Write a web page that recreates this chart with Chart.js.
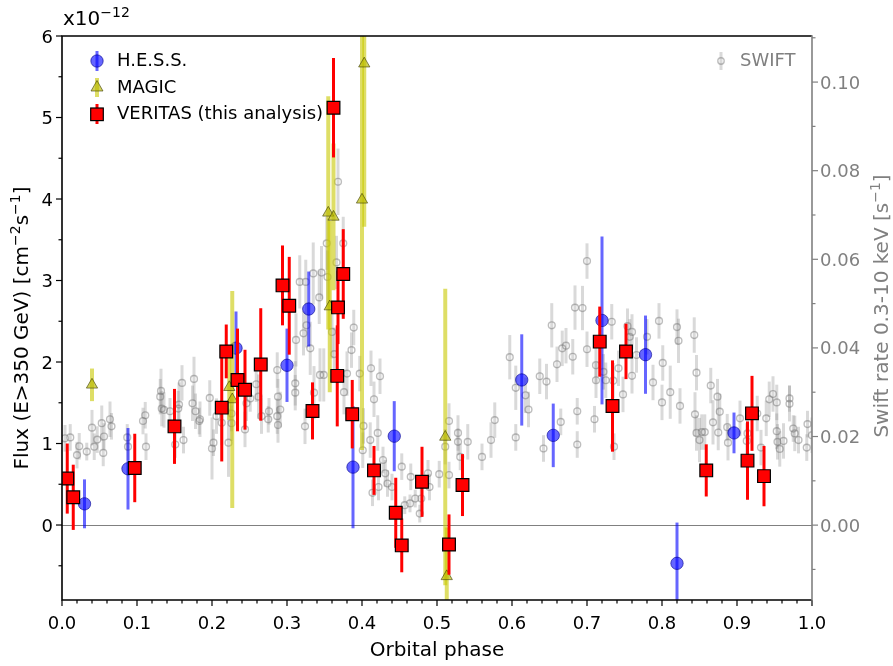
<!DOCTYPE html>
<html><head><meta charset="utf-8">
<script src="https://cdn.jsdelivr.net/npm/chart.js@4.4.1/dist/chart.umd.min.js"></script>
<style>html,body{margin:0;padding:0;background:#fff;}</style>
</head><body>
<canvas id="c" width="893" height="666" style="width:893px;height:666px;display:block"></canvas>
<script>
// ---- data (flux in units of 1e-12 cm^-2 s^-1) ----
const hessPhase = [0.030,0.088,0.232,0.300,0.329,0.388,0.443,0.613,0.655,0.720,0.778,0.820,0.896];
const hessFlux  = [0.26,0.69,2.17,1.96,2.65,0.71,1.09,1.78,1.10,2.51,2.09,-0.47,1.13];
const hessErr   = [0.30,0.50,0.45,0.45,0.46,0.75,0.43,0.56,0.39,1.03,0.48,0.50,0.25];

const magicPhase = [0.040,0.223,0.227,0.355,0.357,0.362,0.400,0.403,0.511,0.513];
const magicFlux  = [1.72,1.69,1.54,3.83,2.68,3.78,3.99,5.66,1.08,-0.63];
const magicErr   = [0.20,0.40,1.33,1.43,1.05,0.90,3.07,2.00,1.82,0.60];

const veritasPhase = [0.007,0.015,0.097,0.150,0.213,0.219,0.234,0.244,0.265,0.294,0.303,0.334,0.362,0.367,0.368,0.375,0.387,0.416,0.445,0.453,0.480,0.516,0.534,0.717,0.734,0.752,0.859,0.914,0.920,0.936];
const veritasFlux  = [0.57,0.34,0.70,1.21,1.44,2.13,1.78,1.66,1.97,2.94,2.69,1.40,5.12,1.83,2.67,3.08,1.36,0.67,0.15,-0.25,0.53,-0.24,0.49,2.25,1.46,2.13,0.67,0.79,1.37,0.60];
const veritasErr   = [0.43,0.40,0.42,0.46,0.66,0.33,0.63,0.49,0.69,0.49,0.60,0.35,0.61,0.62,0.45,0.55,0.42,0.30,0.43,0.33,0.43,0.37,0.38,0.43,0.56,0.34,0.32,0.48,0.46,0.37];

const swiftPhase = [0.004,0.011,0.020,0.023,0.033,0.040,0.043,0.047,0.053,0.055,0.056,0.064,0.066,0.087,0.088,0.108,0.111,0.112,0.131,0.132,0.133,0.136,0.144,0.151,0.155,0.156,0.160,0.162,0.174,0.176,0.178,0.183,0.184,0.197,0.200,0.202,0.206,0.213,0.222,0.226,0.226,0.244,0.246,0.251,0.259,0.262,0.266,0.275,0.276,0.287,0.288,0.288,0.287,0.291,0.311,0.311,0.312,0.317,0.322,0.324,0.326,0.325,0.331,0.335,0.336,0.343,0.344,0.346,0.349,0.353,0.354,0.360,0.363,0.366,0.368,0.375,0.376,0.380,0.386,0.389,0.397,0.401,0.402,0.411,0.412,0.414,0.416,0.421,0.422,0.424,0.428,0.431,0.434,0.440,0.453,0.457,0.464,0.465,0.471,0.477,0.479,0.488,0.490,0.503,0.511,0.516,0.516,0.528,0.528,0.531,0.541,0.560,0.572,0.577,0.597,0.605,0.605,0.618,0.622,0.637,0.642,0.646,0.653,0.660,0.665,0.667,0.672,0.681,0.684,0.687,0.687,0.694,0.700,0.700,0.710,0.712,0.712,0.722,0.725,0.733,0.735,0.736,0.742,0.748,0.754,0.757,0.760,0.760,0.766,0.780,0.788,0.796,0.800,0.801,0.811,0.820,0.822,0.824,0.843,0.844,0.846,0.846,0.850,0.853,0.857,0.865,0.868,0.874,0.875,0.877,0.887,0.888,0.904,0.913,0.914,0.927,0.932,0.939,0.943,0.948,0.953,0.953,0.954,0.957,0.962,0.970,0.970,0.975,0.977,0.982,0.993,0.994,1.000];
const swiftRate  = [0.0196,0.0198,0.0158,0.0178,0.0166,0.0220,0.0177,0.0193,0.0230,0.0163,0.0200,0.0239,0.0223,0.0198,0.0177,0.0235,0.0248,0.0177,0.0290,0.0303,0.0263,0.0260,0.0257,0.0182,0.0263,0.0272,0.0321,0.0192,0.0275,0.0330,0.0257,0.0235,0.0239,0.0287,0.0173,0.0186,0.0246,0.0231,0.0186,0.0230,0.0252,0.0216,0.0275,0.0286,0.0318,0.0290,0.0246,0.0239,0.0257,0.0246,0.0226,0.0290,0.0350,0.0261,0.0320,0.0299,0.0418,0.0549,0.0433,0.0223,0.0451,0.0549,0.0399,0.0568,0.0299,0.0514,0.0339,0.0570,0.0339,0.0636,0.0560,0.0436,0.0386,0.0593,0.0775,0.0636,0.0300,0.0342,0.0395,0.0446,0.0342,0.0169,0.0224,0.0192,0.0354,0.0073,0.0284,0.0208,0.0086,0.0336,0.0147,0.0117,0.0094,0.0086,0.0132,0.0045,0.0049,0.0109,0.0060,0.0026,0.0060,0.0117,0.0086,0.0115,0.0177,0.0113,0.0235,0.0208,0.0188,0.0154,0.0188,0.0154,0.0192,0.0237,0.0379,0.0310,0.0198,0.0293,0.0261,0.0336,0.0173,0.0324,0.0451,0.0363,0.0233,0.0399,0.0405,0.0380,0.0491,0.0257,0.0182,0.0490,0.0596,0.0397,0.0239,0.0361,0.0327,0.0346,0.0327,0.0459,0.0326,0.0177,0.0354,0.0295,0.0449,0.0425,0.0436,0.0337,0.0384,0.0425,0.0322,0.0461,0.0277,0.0366,0.0300,0.0447,0.0416,0.0269,0.0429,0.0250,0.0344,0.0208,0.0192,0.0210,0.0210,0.0315,0.0232,0.0290,0.0209,0.0256,0.0221,0.0186,0.0241,0.0190,0.0207,0.0252,0.0175,0.0241,0.0284,0.0296,0.0277,0.0212,0.0188,0.0172,0.0190,0.0286,0.0274,0.0218,0.0207,0.0192,0.0175,0.0228,0.0203];
const swiftErr   = [0.003,0.003,0.003,0.003,0.002,0.004,0.003,0.003,0.004,0.003,0.003,0.004,0.003,0.003,0.003,0.003,0.003,0.003,0.004,0.005,0.004,0.004,0.003,0.003,0.004,0.005,0.004,0.003,0.004,0.005,0.004,0.003,0.004,0.004,0.007,0.003,0.004,0.005,0.0077,0.004,0.004,0.004,0.004,0.003,0.004,0.005,0.004,0.003,0.003,0.004,0.004,0.004,0.004,0.004,0.005,0.004,0.006,0.006,0.005,0.004,0.005,0.005,0.006,0.007,0.006,0.006,0.006,0.006,0.006,0.006,0.006,0.006,0.006,0.006,0.0075,0.006,0.005,0.005,0.004,0.004,0.004,0.004,0.004,0.004,0.004,0.003,0.004,0.004,0.003,0.004,0.003,0.003,0.003,0.003,0.003,0.002,0.002,0.003,0.002,0.002,0.003,0.003,0.003,0.003,0.004,0.003,0.004,0.004,0.003,0.003,0.004,0.003,0.004,0.004,0.005,0.005,0.003,0.004,0.004,0.004,0.003,0.004,0.005,0.004,0.003,0.004,0.004,0.004,0.005,0.003,0.003,0.005,0.004,0.004,0.003,0.004,0.004,0.004,0.004,0.004,0.004,0.003,0.004,0.004,0.004,0.004,0.004,0.004,0.004,0.004,0.004,0.004,0.004,0.004,0.006,0.004,0.005,0.004,0.004,0.005,0.004,0.004,0.005,0.004,0.004,0.004,0.005,0.004,0.004,0.004,0.003,0.004,0.004,0.004,0.003,0.004,0.004,0.004,0.004,0.004,0.004,0.004,0.004,0.004,0.004,0.003,0.004,0.003,0.004,0.003,0.003,0.003,0.004,0.003];

const xMajor = [0,0.1,0.2,0.3,0.4,0.5,0.6,0.7,0.8,0.9,1.0];
const yMajor = [0,1,2,3,4,5,6];
const y2Major = [0,0.02,0.04,0.06,0.08,0.10];

const pts = (xs, ys) => xs.map((x,i)=>({x:x, y:ys[i]}));
const FONT = 'DejaVu Sans';
const TICK = 18, LABEL = 20, LEG = 18;

// ---- error bars, drawn just before each dataset's markers ----
const errPlugin = {
  id:'errbars',
  beforeDatasetDraw(chart, args){
    const ds = chart.data.datasets[args.index];
    if(!ds.errs) return;
    const xs = chart.scales.x, ys = chart.scales[ds.yAxisID];
    const ctx = chart.ctx, a = chart.chartArea;
    ctx.save();
    ctx.beginPath(); ctx.rect(a.left, a.top, a.right-a.left, a.bottom-a.top); ctx.clip();
    ctx.strokeStyle = ds.errColor; ctx.lineWidth = ds.errWidth; ctx.lineCap='butt';
    ds.data.forEach((p,i)=>{
      const x = xs.getPixelForValue(p.x), e = ds.errs[i];
      ctx.beginPath();
      ctx.moveTo(x, ys.getPixelForValue(p.y - e));
      ctx.lineTo(x, ys.getPixelForValue(p.y + e));
      ctx.stroke();
    });
    ctx.restore();
  }
};

function richWidth(ctx, parts, size, supSize){
  let w=0;
  parts.forEach(p=>{ ctx.font = (p.sup?supSize:size)+'px "'+FONT+'"'; w += ctx.measureText(p.t).width; });
  return w;
}
function drawRich(ctx, parts, x, y, size, supSize, color, align){
  const w = richWidth(ctx, parts, size, supSize);
  let cx = align==='center' ? x - w/2 : x;
  ctx.fillStyle = color; ctx.textBaseline='alphabetic'; ctx.textAlign='left';
  parts.forEach(p=>{
    ctx.font = (p.sup?supSize:size)+'px "'+FONT+'"';
    ctx.fillText(p.t, cx, p.sup ? y - size*0.42 : y);
    cx += ctx.measureText(p.t).width;
  });
}

const decoPlugin = {
  id:'deco',
  beforeDatasetsDraw(chart){
    const ctx = chart.ctx, a = chart.chartArea, y = chart.scales.y;
    ctx.save();
    ctx.strokeStyle = '#808080'; ctx.lineWidth = 1.2;
    const py = Math.round(y.getPixelForValue(0))+0.5;
    ctx.beginPath(); ctx.moveTo(a.left, py); ctx.lineTo(a.right, py); ctx.stroke();
    ctx.restore();
  },
  afterDraw(chart){
    const ctx = chart.ctx, a = chart.chartArea;
    const xs = chart.scales.x, ys = chart.scales.y, y2 = chart.scales.y2;
    ctx.save();
    // tick marks
    ctx.lineWidth = 1.2;
    ctx.strokeStyle = '#000';
    for(let i=0;i<=50;i++){
      const v = i/50, px = xs.getPixelForValue(v), L = (i%5===0)?6:3.5;
      ctx.beginPath(); ctx.moveTo(px, a.bottom); ctx.lineTo(px, a.bottom+L); ctx.stroke();
    }
    for(let i=-1;i<=12;i++){
      const v = i*0.5, py = ys.getPixelForValue(v), L = (i%2===0)?6:3.5;
      if(py < a.top-0.5 || py > a.bottom+0.5) continue;
      ctx.beginPath(); ctx.moveTo(a.left, py); ctx.lineTo(a.left-L, py); ctx.stroke();
    }
    ctx.strokeStyle = '#808080';
    for(let i=-1;i<=11;i++){
      const v = i*0.01, py = y2.getPixelForValue(v), L = (i%2===0)?6:3.5;
      if(py < a.top-0.5 || py > a.bottom+0.5) continue;
      ctx.beginPath(); ctx.moveTo(a.right, py); ctx.lineTo(a.right+L, py); ctx.stroke();
    }
    // spines
    ctx.lineWidth = 1.6;
    ctx.strokeStyle = '#000';
    ctx.beginPath();
    ctx.moveTo(a.right, a.top); ctx.lineTo(a.left, a.top); ctx.lineTo(a.left, a.bottom); ctx.lineTo(a.right, a.bottom);
    ctx.stroke();
    ctx.strokeStyle = '#808080';
    ctx.beginPath(); ctx.moveTo(a.right, a.top-0.8); ctx.lineTo(a.right, a.bottom+0.8); ctx.stroke();

    // tick labels (placed from the scales' own pixel mapping)
    ctx.font = TICK+'px "'+FONT+'"'; ctx.textBaseline = 'alphabetic';
    ctx.fillStyle = '#000'; ctx.textAlign = 'center';
    xs.ticks.forEach(t=>{ ctx.fillText(Number(t.value).toFixed(1), xs.getPixelForValue(t.value), a.bottom + 29); });
    ctx.textAlign = 'right';
    ys.ticks.forEach(t=>{ ctx.fillText(String(t.value), a.left - 9, ys.getPixelForValue(t.value) + 6.5); });
    ctx.fillStyle = '#808080'; ctx.textAlign = 'left';
    y2.ticks.forEach(t=>{ ctx.fillText(Number(t.value).toFixed(2), a.right + 8, y2.getPixelForValue(t.value) + 6.5); });

    // axis titles
    drawRich(ctx, [{t:'Orbital phase'}], (a.left+a.right)/2, 656, LABEL, 14, '#000', 'center');
    ctx.save();
    ctx.translate(28, (a.top+a.bottom)/2 + 10); ctx.rotate(-Math.PI/2);
    drawRich(ctx, [{t:'Flux (E>350 GeV) [cm'},{t:'\u22122',sup:true},{t:'s'},{t:'\u22121',sup:true},{t:']'}], 0, 0, LABEL, 14, '#000', 'center');
    ctx.restore();
    ctx.save();
    ctx.translate(888, (a.top+a.bottom)/2 - 12); ctx.rotate(-Math.PI/2);
    drawRich(ctx, [{t:'Swift rate 0.3-10 keV [s'},{t:'\u22121',sup:true},{t:']'}], 0, 0, LABEL, 14, '#808080', 'center');
    ctx.restore();
    // offset text
    drawRich(ctx, [{t:'x10'},{t:'\u221212',sup:true}], 63, 25, LABEL, 14, '#000', 'left');

    // legend (left)
    const lx = 97, tx = 117;
    ctx.font = LEG+'px "'+FONT+'"'; ctx.textBaseline = 'middle'; ctx.textAlign='left';
    // HESS
    ctx.lineWidth = 3; ctx.strokeStyle = 'rgba(0,0,255,0.6)';
    ctx.beginPath(); ctx.moveTo(lx, 51); ctx.lineTo(lx, 71); ctx.stroke();
    ctx.beginPath(); ctx.arc(lx, 61, 6.2, 0, Math.PI*2);
    ctx.fillStyle = 'rgba(0,0,255,0.6)'; ctx.fill();
    ctx.lineWidth = 1; ctx.strokeStyle = 'rgba(0,0,140,0.6)'; ctx.stroke();
    ctx.fillStyle = '#000'; ctx.fillText('H.E.S.S.', tx, 61);
    // MAGIC
    ctx.lineWidth = 4; ctx.strokeStyle = 'rgba(200,200,0,0.6)';
    ctx.beginPath(); ctx.moveTo(lx, 78); ctx.lineTo(lx, 97); ctx.stroke();
    ctx.beginPath(); ctx.moveTo(lx, 80.5); ctx.lineTo(lx+6, 91); ctx.lineTo(lx-6, 91); ctx.closePath();
    ctx.fillStyle = 'rgba(185,185,0,0.65)'; ctx.fill();
    ctx.lineWidth = 1; ctx.strokeStyle = 'rgba(60,60,0,0.6)'; ctx.stroke();
    ctx.fillStyle = '#000'; ctx.fillText('MAGIC', tx, 88);
    // VERITAS
    ctx.lineWidth = 3; ctx.strokeStyle = '#ff0000';
    ctx.beginPath(); ctx.moveTo(lx, 104); ctx.lineTo(lx, 124); ctx.stroke();
    ctx.fillStyle = '#ff0000'; ctx.fillRect(lx-6.3, 108, 12.6, 12.6);
    ctx.lineWidth = 1.2; ctx.strokeStyle = '#000'; ctx.strokeRect(lx-6.3, 108, 12.6, 12.6);
    ctx.fillStyle = '#000'; ctx.fillText('VERITAS (this analysis)', tx, 114);
    // SWIFT legend (right)
    ctx.lineWidth = 3; ctx.strokeStyle = 'rgba(128,128,128,0.3)';
    ctx.beginPath(); ctx.moveTo(721, 52); ctx.lineTo(721, 70); ctx.stroke();
    ctx.beginPath(); ctx.arc(721, 61, 3.2, 0, Math.PI*2);
    ctx.lineWidth = 1.4; ctx.strokeStyle = 'rgba(128,128,128,0.5)'; ctx.stroke();
    ctx.fillStyle = '#808080'; ctx.fillText('SWIFT', 740, 61);
    ctx.restore();
  }
};

new Chart(document.getElementById('c'), {
  type: 'scatter',
  data: {
    datasets: [
      { label:'VERITAS (this analysis)', data: pts(veritasPhase, veritasFlux), yAxisID:'y',
        errs: veritasErr, errColor:'#ff0000', errWidth:3,
        pointStyle:'rect', pointRadius:9, backgroundColor:'#ff0000', borderColor:'#000', borderWidth:1.2 },
      { label:'MAGIC', data: pts(magicPhase, magicFlux), yAxisID:'y',
        errs: magicErr, errColor:'rgba(200,200,0,0.6)', errWidth:4,
        pointStyle:'triangle', pointRadius:6.5, backgroundColor:'rgba(185,185,0,0.65)', borderColor:'rgba(60,60,0,0.6)', borderWidth:1 },
      { label:'H.E.S.S.', data: pts(hessPhase, hessFlux), yAxisID:'y',
        errs: hessErr, errColor:'rgba(0,0,255,0.6)', errWidth:3,
        pointStyle:'circle', pointRadius:6.2, backgroundColor:'rgba(0,0,255,0.6)', borderColor:'rgba(0,0,140,0.6)', borderWidth:1 },
      { label:'SWIFT', data: pts(swiftPhase, swiftRate), yAxisID:'y2',
        errs: swiftErr, errColor:'rgba(128,128,128,0.3)', errWidth:3,
        pointStyle:'circle', pointRadius:3.4, backgroundColor:'rgba(255,255,255,0)', borderColor:'rgba(110,110,110,0.45)', borderWidth:1.4 }
    ]
  },
  options: {
    responsive:false, animation:false, devicePixelRatio:1,
    layout:{padding:{top:36, left:0, right:0, bottom:0}},
    plugins:{legend:{display:false}, tooltip:{enabled:false}},
    elements:{point:{hoverRadius:0}},
    scales:{
      x:{type:'linear', position:'bottom', min:0, max:1,
         grid:{display:false, drawTicks:false}, border:{display:false},
         afterBuildTicks: s=>{ s.ticks = xMajor.map(v=>({value:v})); },
         ticks:{display:false},
         afterFit: s=>{ s.height = 66; } },
      y:{type:'linear', position:'left', min:-0.92, max:6,
         grid:{display:false, drawTicks:false}, border:{display:false},
         afterBuildTicks: s=>{ s.ticks = yMajor.map(v=>({value:v})); },
         ticks:{display:false},
         afterFit: s=>{ s.width = 62; } },
      y2:{type:'linear', position:'right', min:-0.0169, max:0.1104,
         grid:{display:false, drawTicks:false}, border:{display:false},
         afterBuildTicks: s=>{ s.ticks = y2Major.map(v=>({value:v})); },
         ticks:{display:false},
         afterFit: s=>{ s.width = 81; } }
    }
  },
  plugins:[errPlugin, decoPlugin]
});
</script>
</body></html>
